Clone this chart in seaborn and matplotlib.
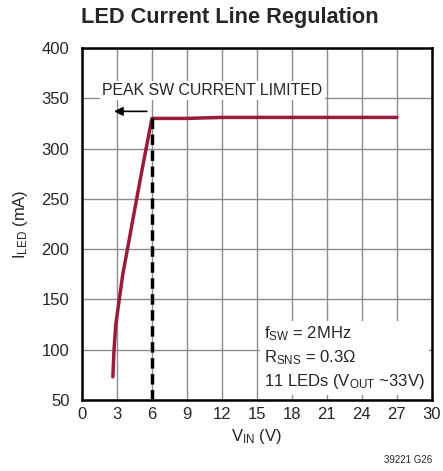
import matplotlib
matplotlib.use('Agg')
import matplotlib.pyplot as plt
import seaborn as sns
import pandas as pd

# LED current vs input voltage
vin = [2.65, 2.75, 2.9, 3.2, 3.5, 3.9, 4.5, 5.2, 6.0, 9.0, 12.0, 15.0, 18.0, 21.0, 24.0, 27.0]
iled = [73, 100, 125, 150, 175, 200, 238, 282, 330, 330, 331, 331, 331, 331, 331, 331]
peak_x = [6, 6]
peak_y = [50, 330]

df = pd.DataFrame({'VIN': vin, 'ILED': iled})

sns.set_style('white')
plt.rcParams['font.family'] = ['Liberation Sans Narrow', 'Liberation Sans', 'DejaVu Sans']

fig = plt.figure(figsize=(4.43, 4.71), dpi=100)
ax = fig.add_axes([0.185, 0.151, 0.79, 0.747])

sns.lineplot(data=df, x='VIN', y='ILED', ax=ax, color='#9a1b3c', linewidth=2.5, zorder=3)
ax.plot(peak_x, peak_y, color='black', linestyle=(0, (3, 1.6)), linewidth=2.5, zorder=4)

ax.set_xlim(0, 30)
ax.set_ylim(50, 400)
ax.set_xticks(range(0, 31, 3))
ax.set_yticks(range(50, 401, 50))
ax.grid(True, color='#8c8c8c', linewidth=1)
ax.set_axisbelow(True)
for s in ax.spines.values():
    s.set_color('black')
    s.set_linewidth(1.8)
ax.tick_params(axis='x', labelsize=12, length=0, pad=5)
ax.tick_params(axis='y', labelsize=12, length=0, pad=9)

ax.set_xlabel(r'$\mathregular{V_{IN}}$ (V)', fontsize=12, labelpad=4)
ax.set_ylabel(r'$\mathregular{I_{LED}}$ (mA)', fontsize=12, labelpad=8)
fig.suptitle('LED Current Line Regulation', fontsize=15.7, fontweight='bold', x=0.518, y=0.985)

ax.annotate('', xy=(2.5, 337), xytext=(5.8, 337),
            arrowprops=dict(arrowstyle='-|>', color='black', lw=1.2, mutation_scale=13))
ax.text(1.75, 358, 'PEAK SW CURRENT LIMITED', fontsize=11.4, va='center', ha='left',
        bbox=dict(facecolor='white', edgecolor='none', pad=1.5), zorder=2)

note = ('$\\mathregular{f_{SW}}$ = 2MHz\n'
        '$\\mathregular{R_{SNS}}$ = 0.3Ω\n'
        '11 LEDs ($\\mathregular{V_{OUT}}$ ~33V)')
ax.text(15.6, 92, note, fontsize=12, va='center', ha='left', linespacing=1.35,
        bbox=dict(facecolor='white', edgecolor='none', pad=3), zorder=2)

fig.text(0.975, 0.012, '39221 G26', fontsize=7, ha='right', va='bottom')

fig.savefig('out.png', dpi=100)
